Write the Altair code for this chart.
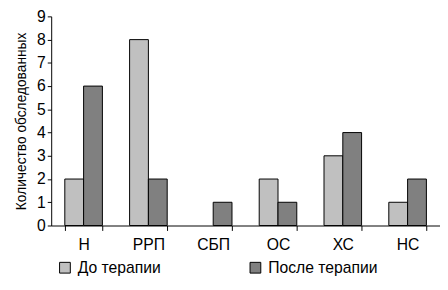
import altair as alt
import pandas as pd

categories = ["Н", "РРП", "СБП", "ОС", "ХС", "НС"]
before = [2, 8, 0, 2, 3, 1]
after = [6, 2, 1, 1, 4, 2]
series = ["До терапии", "После терапии"]

rows = []
for c, b, a in zip(categories, before, after):
    rows.append({"cat": c, "series": series[0], "value": b})
    rows.append({"cat": c, "series": series[1], "value": a})
df = pd.DataFrame(rows)

font = "Liberation Sans"

chart = alt.Chart(df).transform_filter("datum.value > 0").mark_bar(stroke="black", strokeWidth=1).encode(
    x=alt.X("cat:N", sort=categories,
            scale=alt.Scale(domain=categories, paddingInner=0.42, paddingOuter=0.21),
            axis=alt.Axis(title=None, labelAngle=0, labelFont=font, labelFontSize=16,
                          labelColor="black", labelPadding=6, tickBand="extent",
                          tickColor="black", domainColor="black", tickSize=5)),
    xOffset=alt.XOffset("series:N", sort=series, scale=alt.Scale(domain=series)),
    y=alt.Y("value:Q", scale=alt.Scale(domain=[0, 9], nice=False),
            axis=alt.Axis(title="Количество обследованных", values=list(range(10)),
                          grid=False, labelFont=font, labelFontSize=16, labelColor="black",
                          titleFont=font, titleFontSize=14, titleFontWeight="normal",
                          titleColor="black", titlePadding=8, tickColor="black",
                          domainColor="black", tickSize=4, labelPadding=2)),
    color=alt.Color("series:N", sort=series,
                    scale=alt.Scale(domain=series, range=["#c0c0c0", "#808080"]),
                    legend=alt.Legend(title=None, orient="none", direction="horizontal",
                                      legendX=6, legendY=248, symbolType="square",
                                      symbolSize=120, symbolStrokeColor="black",
                                      symbolStrokeWidth=1, labelFont=font,
                                      labelFontSize=16, labelColor="black",
                                      columnPadding=88, labelOffset=5)),
).properties(
    width=396, height=213,
    autosize=alt.AutoSizeParams(type="none"),
    padding={"left": 44, "top": 6, "right": 0, "bottom": 55},
).configure_view(stroke=None)

chart.save("out.html", embed_options={"renderer": "svg", "actions": False})
